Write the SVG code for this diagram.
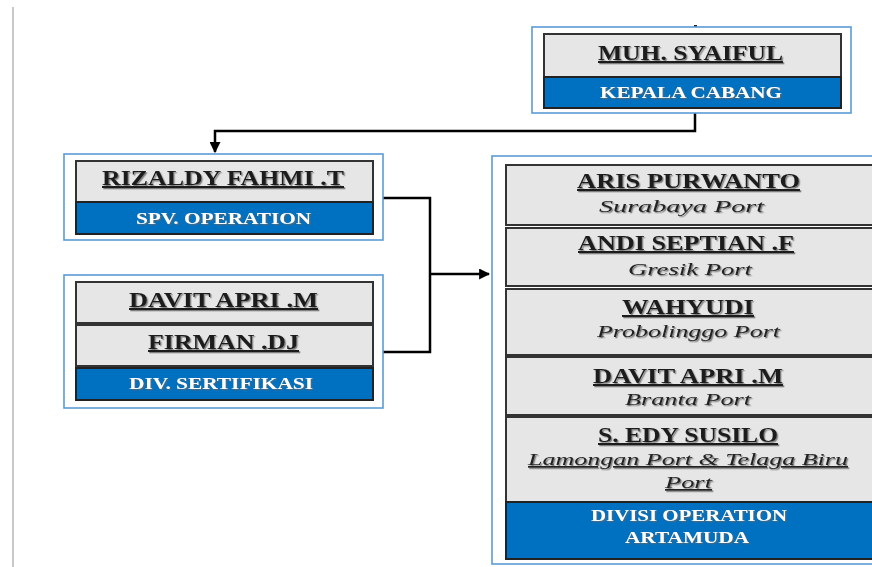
<svg xmlns="http://www.w3.org/2000/svg" width="872" height="567" viewBox="0 0 872 567">
<defs>
<style>
.outer{fill:#ffffff;stroke:#5b9bd5;stroke-width:1.6}
.cell{fill:#e6e6e6;stroke:#333333;stroke-width:2}
.band{fill:#0070c0;stroke:#222222;stroke-width:2}
.name{font-family:"Liberation Serif","Times New Roman",serif;font-weight:bold;font-size:20px;fill:#1a1a1a;text-decoration:underline;filter:url(#sh)}
.role{font-family:"Liberation Serif","Times New Roman",serif;font-weight:bold;font-size:16px;fill:#ffffff;filter:url(#sh)}
.port{font-family:"Liberation Serif","Times New Roman",serif;font-style:italic;font-size:17px;fill:#222222;filter:url(#sh)}
.conn{fill:none;stroke:#000000;stroke-width:2.5}
</style>
<filter id="sh" x="-5%" y="-20%" width="110%" height="150%">
<feDropShadow dx="1.3" dy="1.3" stdDeviation="0.6" flood-color="#666666" flood-opacity="0.8"/>
</filter>
<marker id="arr" viewBox="0 0 10 10" refX="9" refY="5" markerWidth="4.4" markerHeight="4.4" orient="auto">
<path d="M0,0 L10,5 L0,10 z" fill="#000000"/>
</marker>
</defs>
<rect x="0" y="0" width="872" height="567" fill="#ffffff"/>
<line x1="13" y1="7" x2="13" y2="567" stroke="#c8c8c8" stroke-width="2"/>

<g id="connectors">
<polyline class="conn" points="695,113 695,131 215,131 215,152" marker-end="url(#arr)"/>
<polyline class="conn" points="383,198 430,198 430,352 383,352"/>
<line class="conn" x1="430" y1="274" x2="489" y2="274" marker-end="url(#arr)"/>
<rect x="694" y="25" width="3" height="2" fill="#222222"/>
</g>

<g id="kepala-cabang">
<rect class="outer" x="532" y="27" width="319" height="86"/>
<rect class="cell" x="544" y="34" width="297" height="43"/>
<rect class="band" x="544" y="77" width="297" height="31"/>
<text class="name" x="690.5" y="60" text-anchor="middle" textLength="185" lengthAdjust="spacingAndGlyphs">MUH. SYAIFUL</text>
<text class="role" x="691" y="98" text-anchor="middle" textLength="182" lengthAdjust="spacingAndGlyphs">KEPALA CABANG</text>
</g>

<g id="spv-operation">
<rect class="outer" x="64" y="154" width="319" height="86"/>
<rect class="cell" x="76" y="161" width="297" height="41"/>
<rect class="band" x="76" y="202" width="297" height="32"/>
<text class="name" x="223" y="185" text-anchor="middle" textLength="242" lengthAdjust="spacingAndGlyphs">RIZALDY FAHMI .T</text>
<text class="role" x="223.5" y="224" text-anchor="middle" textLength="175" lengthAdjust="spacingAndGlyphs">SPV. OPERATION</text>
</g>

<g id="div-sertifikasi">
<rect class="outer" x="64" y="275" width="319" height="133"/>
<rect class="cell" x="76" y="282" width="297" height="41"/>
<rect class="cell" x="76" y="325" width="297" height="41"/>
<rect class="band" x="76" y="368" width="297" height="32"/>
<text class="name" x="223.5" y="307" text-anchor="middle" textLength="189" lengthAdjust="spacingAndGlyphs">DAVIT APRI .M</text>
<text class="name" x="223.5" y="349" text-anchor="middle" textLength="151" lengthAdjust="spacingAndGlyphs">FIRMAN .DJ</text>
<text class="role" x="221" y="389" text-anchor="middle" textLength="184" lengthAdjust="spacingAndGlyphs">DIV. SERTIFIKASI</text>
</g>

<g id="divisi-operation-artamuda">
<rect class="outer" x="492" y="156" width="400" height="408"/>
<rect class="cell" x="506" y="165" width="380" height="60"/>
<rect class="cell" x="506" y="228" width="380" height="58"/>
<rect class="cell" x="506" y="289" width="380" height="66"/>
<rect class="cell" x="506" y="357" width="380" height="58"/>
<rect class="cell" x="506" y="417" width="380" height="85"/>
<rect class="band" x="506" y="502" width="380" height="57"/>
<text class="name" x="688.5" y="188" text-anchor="middle" textLength="223" lengthAdjust="spacingAndGlyphs">ARIS PURWANTO</text>
<text class="port" x="681.5" y="212" text-anchor="middle" textLength="165" lengthAdjust="spacingAndGlyphs">Surabaya Port</text>
<text class="name" x="686" y="250" text-anchor="middle" textLength="216" lengthAdjust="spacingAndGlyphs">ANDI SEPTIAN .F</text>
<text class="port" x="690" y="275" text-anchor="middle" textLength="124" lengthAdjust="spacingAndGlyphs">Gresik Port</text>
<text class="name" x="688" y="314" text-anchor="middle" textLength="132" lengthAdjust="spacingAndGlyphs">WAHYUDI</text>
<text class="port" x="688.5" y="337" text-anchor="middle" textLength="183" lengthAdjust="spacingAndGlyphs">Probolinggo Port</text>
<text class="name" x="688" y="383" text-anchor="middle" textLength="190" lengthAdjust="spacingAndGlyphs">DAVIT APRI .M</text>
<text class="port" x="688" y="405" text-anchor="middle" textLength="126" lengthAdjust="spacingAndGlyphs">Branta Port</text>
<text class="name" x="688" y="442" text-anchor="middle" textLength="180" lengthAdjust="spacingAndGlyphs">S. EDY SUSILO</text>
<text class="port" x="688" y="465" text-anchor="middle" text-decoration="underline" textLength="320" lengthAdjust="spacingAndGlyphs">Lamongan Port &amp; Telaga Biru</text>
<text class="port" x="688.5" y="488" text-anchor="middle" text-decoration="underline" textLength="47" lengthAdjust="spacingAndGlyphs">Port</text>
<text class="role" x="689" y="521" text-anchor="middle" textLength="196" lengthAdjust="spacingAndGlyphs">DIVISI OPERATION</text>
<text class="role" x="687" y="543" text-anchor="middle" textLength="124" lengthAdjust="spacingAndGlyphs">ARTAMUDA</text>
</g>
</svg>
